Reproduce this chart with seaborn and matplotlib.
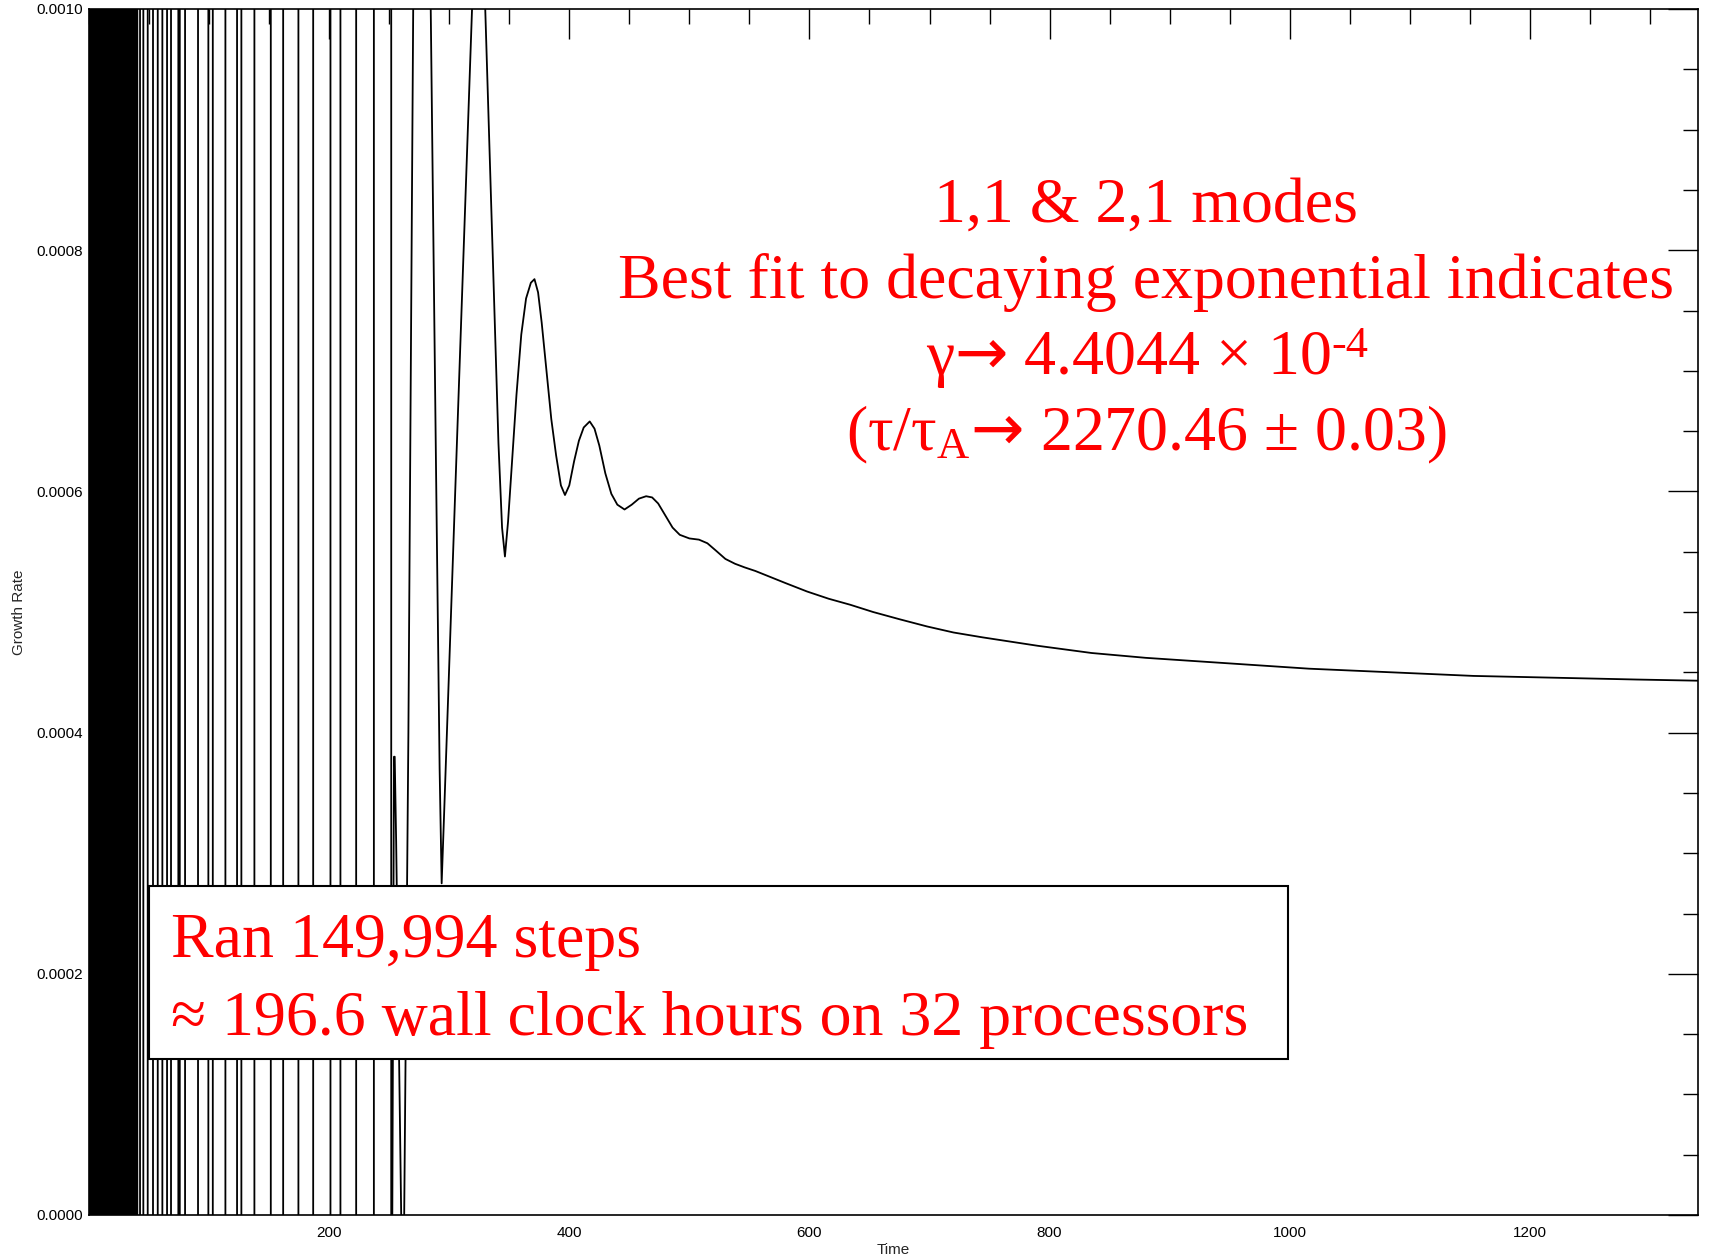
import matplotlib
matplotlib.use("Agg")
import matplotlib.pyplot as plt
import numpy as np
import pandas as pd
import seaborn as sns
from matplotlib.ticker import FixedLocator, MultipleLocator, FixedFormatter
from matplotlib.patches import Rectangle

# ---------------- data ----------------
# region where the early noisy growth rate oscillates so fast it is solid black
dense_band = [0.0, 40.0]

# times of the near-vertical full-range sweeps of the noisy early phase
sweep_times = [40.25, 42.5, 45.25, 48.9, 53.3, 57.25, 61.1, 65.0, 68.3, 74.4,
               75.6, 80.0, 90.8, 99.4, 103.1, 113.6, 123.3, 126.9, 137.75,
               151.4, 161.7, 174.4, 186.7, 201.1, 209.4, 222.5, 237.25, 251.7]
sweep_extreme = 0.02  # off-scale value reached by each sweep

# the settling growth rate after the noisy phase
curve_time = [252.6, 254.0, 254.6, 255.8, 258.0, 260.0, 261.2, 262.5, 266.0,
              270.0, 277.0, 284.6, 289.0, 292.0, 293.7, 296.0, 300.0, 305.0,
              310.0, 315.0, 319.0, 324.5, 330.0, 334.0, 338.0, 341.0, 344.0,
              346.4, 349.0, 352.0, 356.0, 360.0, 364.0, 368.0, 371.0, 374.0,
              377.0, 381.0, 385.0, 389.0, 393.0, 396.4, 400.0, 404.0, 408.0,
              412.0, 417.0, 421.0, 425.0, 430.0, 435.0, 440.0, 446.0, 452.0,
              458.0, 464.0, 469.0, 474.0, 480.0, 486.0, 492.0, 500.0, 508.0,
              515.0, 522.0, 530.0, 538.0, 546.0, 555.0, 565.0, 580.0, 598.0,
              616.0, 634.0, 653.0, 675.0, 698.0, 720.0, 744.0, 790.0, 835.0,
              880.0, 925.0, 970.0, 1016.0, 1062.0, 1107.0, 1153.0, 1198.0,
              1244.0, 1289.0, 1342.0]
curve_rate = [0.0, 0.00038, 0.00038, 0.00031, 0.00015, 0.0, -0.0003, 0.0,
              0.0004, 0.001, 0.00135, 0.001, 0.00062, 0.00037, 0.000275,
              0.00034, 0.000456, 0.0006, 0.000743, 0.000886, 0.001, 0.00112,
              0.001, 0.00087, 0.00074, 0.00064, 0.00057, 0.000546, 0.000575,
              0.00062, 0.00068, 0.00073, 0.00076, 0.000773, 0.000776,
              0.000765, 0.00074, 0.0007, 0.00066, 0.00063, 0.000605, 0.000597,
              0.000605, 0.000625, 0.000642, 0.000653, 0.000658, 0.000652,
              0.000638, 0.000615, 0.000598, 0.000589, 0.000585, 0.000589,
              0.000594, 0.000596, 0.000595, 0.00059, 0.00058, 0.00057,
              0.000564, 0.000561, 0.00056, 0.000557, 0.000551, 0.000544,
              0.00054, 0.000537, 0.000534, 0.00053, 0.000524, 0.000517,
              0.000511, 0.000506, 0.0005, 0.000494, 0.000488, 0.000483,
              0.000479, 0.000472, 0.000466, 0.000462, 0.000459, 0.000456,
              0.000453, 0.000451, 0.000449, 0.000447, 0.000446, 0.000445,
              0.000444, 0.000443]

x_major = [200, 400, 600, 800, 1000, 1200]
x_labels = ["200", "400", "600", "800", "1000", "1200"]
y_major = [0.0, 0.0002, 0.0004, 0.0006, 0.0008, 0.0010]
y_labels = ["0.0000", "0.0002", "0.0004", "0.0006", "0.0008", "0.0010"]

arrow = "$\\mathsf{\u2192}$"
note_title = "1,1 & 2,1 modes"
note_fit = "Best fit to decaying exponential indicates"
note_gamma = "\u03b3" + arrow + " 4.4044 \u00d7 10"
note_gamma_exp = "-4"
note_tau = "(\u03c4/\u03c4$_{\\mathregular{A}}$" + arrow + " 2270.46 \u00b1 0.03)"
box_lines = ["Ran 149,994 steps",
             "\u2248 196.6 wall clock hours on 32 processors"]

# ---------------- build the series ----------------
t_all, v_all = [], []
n = len(sweep_times)
for i, t in enumerate(sweep_times):
    s = 1 if (n - 1 - i) % 2 == 0 else -1
    t_all += [t, t]
    v_all += [s * sweep_extreme, -s * sweep_extreme]
t_all += curve_time
v_all += curve_rate
df = pd.DataFrame({"Time": t_all, "Growth Rate": v_all})

# ---------------- style ----------------
sns.set_style("white")
plt.rcParams["font.family"] = ["Liberation Sans", "DejaVu Sans"]
plt.rcParams["mathtext.fontset"] = "custom"
plt.rcParams["mathtext.rm"] = "Liberation Serif"
plt.rcParams["mathtext.it"] = "Liberation Serif:italic"
plt.rcParams["mathtext.bf"] = "Liberation Serif:bold"
plt.rcParams["mathtext.sf"] = "DejaVu Sans"

fig = plt.figure(figsize=(17.09, 12.58), dpi=100)
ax = fig.add_axes([89 / 1709, 1 - 1215 / 1258, 1609 / 1709, 1206 / 1258])

ax.axvspan(dense_band[0], dense_band[1], color="black", lw=0)
sns.lineplot(data=df, x="Time", y="Growth Rate", sort=False, estimator=None,
             color="black", linewidth=1.3, ax=ax)

ax.set_xlim(0, 1340)
ax.set_ylim(0, 0.0010)

ax.xaxis.set_major_locator(FixedLocator(x_major))
ax.xaxis.set_major_formatter(FixedFormatter(x_labels))
ax.xaxis.set_minor_locator(MultipleLocator(50))
ax.yaxis.set_major_locator(FixedLocator(y_major))
ax.yaxis.set_major_formatter(FixedFormatter(y_labels))
ax.yaxis.set_minor_locator(MultipleLocator(0.00005))

ax.tick_params(which="both", direction="in", top=True, right=True,
               color="black", width=1.0, labelsize=11, labelcolor="black")
ax.tick_params(which="major", length=21.6)
ax.tick_params(which="minor", length=10.8)
ax.tick_params(axis="x", which="major", pad=8)
ax.tick_params(axis="y", which="major", pad=4)

for sp in ax.spines.values():
    sp.set_color("black")
    sp.set_linewidth(1.2)

ax.set_xlabel("Time", fontsize=11, labelpad=2)
ax.set_ylabel("Growth Rate", fontsize=11)
ax.yaxis.set_label_coords(-0.039, 0.5)

serif = ["Liberation Serif", "DejaVu Serif"]
red_kw = dict(transform=ax.transAxes, va="baseline", color="red",
              fontsize=46, family=serif, zorder=5)
ax.text(0.657, 0.824, note_title, ha="center", **red_kw)
ax.text(0.657, 0.760, note_fit, ha="center", **red_kw)
g = ax.text(0.6457, 0.697, note_gamma, ha="center", **red_kw)
ax.annotate(note_gamma_exp, xy=(1.0, 0.0), xycoords=g, xytext=(1, 24),
            textcoords="offset points", ha="left", va="baseline",
            color="red", fontsize=32, family=serif, zorder=5)
ax.text(0.657, 0.634, note_tau, ha="center", **red_kw)

ax.add_patch(Rectangle((0.0373, 0.129), 0.7077, 0.144, transform=ax.transAxes,
                       facecolor="white", edgecolor="black", lw=1.5, zorder=4))
for txt, yy in zip(box_lines, [0.214, 0.149]):
    ax.text(0.051, yy, txt, ha="left", **red_kw)

fig.savefig("out.png", dpi=100, facecolor="white")
